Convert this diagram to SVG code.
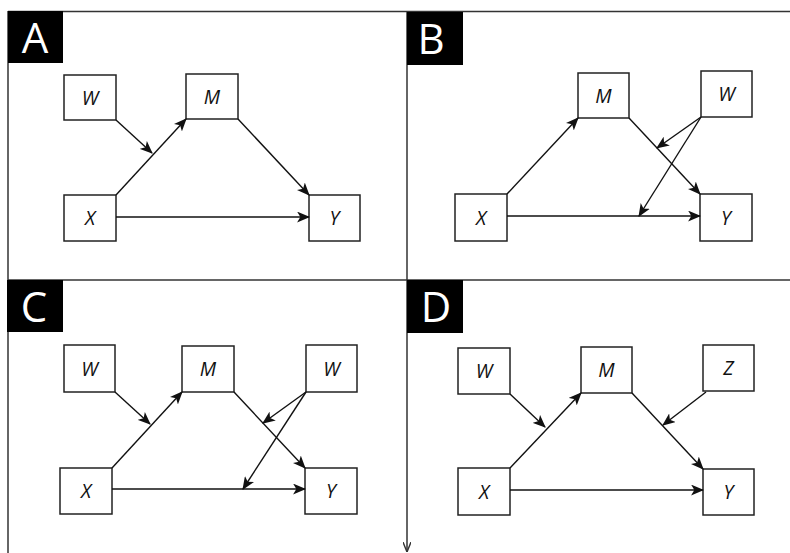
<svg xmlns="http://www.w3.org/2000/svg" width="790" height="553" viewBox="0 0 790 553">
<style>
.frame{fill:none;stroke:#333;stroke-width:1.5}
.node rect{fill:#fff;stroke:#222;stroke-width:1.5}
.node text{font-family:"Open Sans","DejaVu Sans",sans-serif;font-style:italic;font-size:19.5px;fill:#111;text-anchor:middle}
.tag rect{fill:#000}
.tag text{font-family:"Open Sans","DejaVu Sans",sans-serif;font-size:42px;fill:#fff;text-anchor:middle}
.edge{fill:none;stroke:#111;stroke-width:1.4;marker-end:url(#ah)}
</style>
<defs>
<marker id="ah" viewBox="0 0 12 10" refX="11" refY="5" markerWidth="13" markerHeight="11" markerUnits="userSpaceOnUse" orient="auto">
<path d="M0,0 L12,5 L0,10 L3,5 z" fill="#111"/>
</marker>
<marker id="ah2" viewBox="0 0 10 8" refX="10" refY="4" markerWidth="10" markerHeight="8" markerUnits="userSpaceOnUse" orient="auto">
<path d="M0,0 L10,4 L0,8" fill="none" stroke="#333" stroke-width="1.4"/>
</marker>
</defs>
<rect width="790" height="553" fill="#fff"/>
<g id="frames">
<line class="frame" x1="8" y1="11.5" x2="790" y2="11.5"/>
<line class="frame" x1="8" y1="11" x2="8" y2="553"/>
<line class="frame" x1="8" y1="280" x2="790" y2="280"/>
<line class="frame" x1="407" y1="11" x2="407" y2="552" marker-end="url(#ah2)"/>
</g>
<g id="tagA" class="tag"><rect x="8" y="11" width="55" height="52"/><text x="35" y="53">A</text></g>
<g id="tagB" class="tag"><rect x="407" y="12" width="56" height="53"/><text x="431" y="54">B</text></g>
<g id="tagC" class="tag"><rect x="7" y="280" width="56" height="52"/><text x="34" y="322">C</text></g>
<g id="tagD" class="tag"><rect x="407" y="280" width="56" height="53"/><text x="436" y="322">D</text></g>
<!-- Panel A -->
<g id="A_W" class="node"><rect x="64" y="75" width="52" height="45"/><text x="90" y="104.5">W</text></g>
<g id="A_M" class="node"><rect x="186" y="74" width="52" height="45"/><text x="212" y="103.5">M</text></g>
<g id="A_X" class="node"><rect x="64" y="195" width="52" height="46"/><text x="90" y="225">X</text></g>
<g id="A_Y" class="node"><rect x="309" y="195" width="51" height="46"/><text x="334.5" y="225">Y</text></g>
<!-- Panel B -->
<g id="B_M" class="node"><rect x="578" y="73" width="51" height="45"/><text x="603.5" y="102.5">M</text></g>
<g id="B_W" class="node"><rect x="701" y="71" width="51" height="46"/><text x="726.5" y="101">W</text></g>
<g id="B_X" class="node"><rect x="455" y="194" width="52" height="47"/><text x="481" y="224.5">X</text></g>
<g id="B_Y" class="node"><rect x="700" y="194" width="52" height="47"/><text x="726" y="224.5">Y</text></g>
<!-- Panel C -->
<g id="C_W1" class="node"><rect x="64" y="345" width="51" height="47"/><text x="89.5" y="375.5">W</text></g>
<g id="C_M" class="node"><rect x="182" y="346" width="52" height="46"/><text x="208" y="376">M</text></g>
<g id="C_W2" class="node"><rect x="306" y="345" width="51" height="47"/><text x="331.5" y="375.5">W</text></g>
<g id="C_X" class="node"><rect x="60" y="468" width="52" height="46"/><text x="86" y="498">X</text></g>
<g id="C_Y" class="node"><rect x="305" y="468" width="52" height="46"/><text x="331" y="498">Y</text></g>
<!-- Panel D -->
<g id="D_W" class="node"><rect x="458" y="348" width="52" height="46"/><text x="484" y="378">W</text></g>
<g id="D_M" class="node"><rect x="581" y="347" width="51" height="46"/><text x="606.5" y="377">M</text></g>
<g id="D_Z" class="node"><rect x="703" y="345" width="51" height="46"/><text x="728.5" y="375">Z</text></g>
<g id="D_X" class="node"><rect x="458" y="468" width="52" height="47"/><text x="484" y="498.5">X</text></g>
<g id="D_Y" class="node"><rect x="703" y="469" width="51" height="46"/><text x="728.5" y="499">Y</text></g>
<g id="connectors">
<!-- A -->
<line class="edge" x1="116" y1="195" x2="186" y2="119"/>
<line class="edge" x1="116" y1="120" x2="152" y2="153"/>
<line class="edge" x1="238" y1="119" x2="309" y2="195"/>
<line class="edge" x1="116" y1="217" x2="309" y2="217"/>
<!-- B -->
<line class="edge" x1="507" y1="194" x2="578" y2="118"/>
<line class="edge" x1="629" y1="118" x2="700" y2="194"/>
<line class="edge" x1="507" y1="216" x2="700" y2="216"/>
<line class="edge" x1="701" y1="117" x2="657" y2="148"/>
<line class="edge" x1="701" y1="117" x2="639" y2="216"/>
<!-- C -->
<line class="edge" x1="112" y1="468" x2="182" y2="392"/>
<line class="edge" x1="115" y1="392" x2="150" y2="424"/>
<line class="edge" x1="234" y1="392" x2="305" y2="468"/>
<line class="edge" x1="112" y1="489" x2="305" y2="489"/>
<line class="edge" x1="306" y1="392" x2="263" y2="423"/>
<line class="edge" x1="306" y1="392" x2="243" y2="489"/>
<!-- D -->
<line class="edge" x1="510" y1="468" x2="581" y2="393"/>
<line class="edge" x1="510" y1="394" x2="545" y2="427"/>
<line class="edge" x1="632" y1="393" x2="703" y2="469"/>
<line class="edge" x1="510" y1="490" x2="703" y2="490"/>
<line class="edge" x1="706" y1="392" x2="663" y2="425"/>
</g>
</svg>
